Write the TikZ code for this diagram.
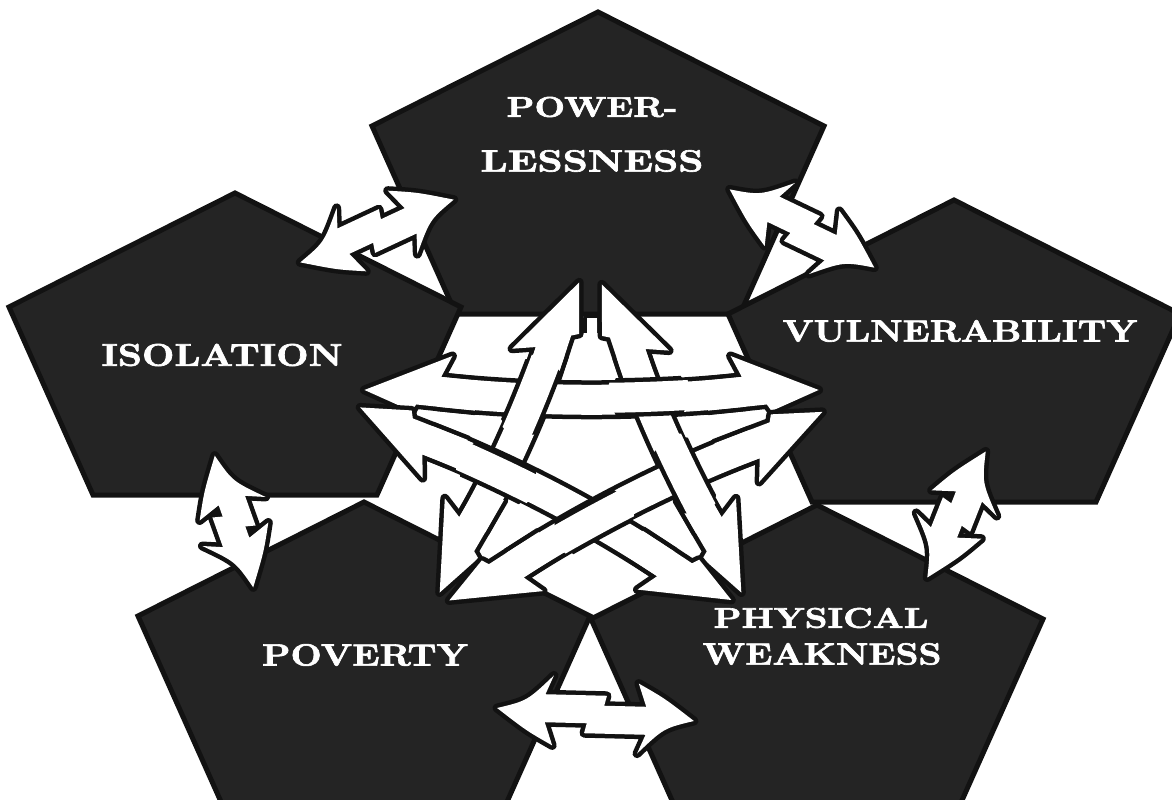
\documentclass[tikz,border=0pt]{standalone}
\usepackage{fontspec}
\usepackage{graphicx}
\usetikzlibrary{calc,intersections,decorations.markings}

\newfontfamily\headfont{Latin Modern Roman}[BoldFeatures={FakeBold=2}]

\definecolor{penfill}{RGB}{36,36,36}
\definecolor{penedge}{RGB}{18,18,18}
\definecolor{ink}{RGB}{18,18,18}

% pentagon with its apex at (#2,#3); #1 names its centre
\newcommand\drawpenta[3]{%
  \draw[penta] (#2,#3) -- ++(226,114) -- ++(-84,188) -- ++(-284,0) -- ++(-84,-188) -- cycle;
  \coordinate (#1) at (#2,#3+170);}

% head of a star arrow: shaft centred on the x axis, head pointing along +x,
% the outer barb on the +y side and the inner side cut straight
\newcommand\starhead[1]{%
  \path[#1] (0,-6) -- (-84,37) -- (-75,15) -- (-112,15)
    -- (-112,-15) -- (-53,-15) -- (-49,-22) -- cycle;}

% curved double arrow of the star
\newcommand\stararrow[2]{%
  \draw[ink, line width=39pt, shorten <=74pt, shorten >=74pt] (#1) to[starcurve] (#2);
  \path[decorate, decoration={markings,
      mark=at position 0 with {\starhead{inkshape, xscale=-1}},
      mark=at position 0.9999 with {\starhead{inkshape}}}] (#1) to[starcurve] (#2);
  \draw[white, line width=30pt, shorten <=74pt, shorten >=74pt] (#1) to[starcurve] (#2);
  \path[decorate, decoration={markings,
      mark=at position 0 with {\starhead{paper, xscale=-1}},
      mark=at position 0.9999 with {\starhead{paper}}}] (#1) to[starcurve] (#2);}

% shaft of a star arrow passing over another one at #1
\newcommand\overpass[3]{%
  \begin{scope}
    \clip (#1) circle[radius=38pt];
    \draw[ink, line width=39pt] (#2) to[starcurve] (#3);
  \end{scope}
  \begin{scope}
    \clip (#1) circle[radius=42pt];
    \draw[white, line width=30pt] (#2) to[starcurve] (#3);
  \end{scope}}

% two opposed single arrows, overlapping with a zigzag in the middle
\newcommand\sidehalves[1]{%
  \path[#1] (0,-4) .. controls (30,-12) .. (56,-38) -- (48,-19) -- (\salen/2+11,-19)
    -- (\salen/2+4,9) -- (48,9) -- (56,32) .. controls (30,18) .. (0,-4) -- cycle;
  \path[#1] (\salen,4) .. controls (\salen-30,12) .. (\salen-56,38) -- (\salen-48,19)
    -- (\salen/2-11,19) -- (\salen/2-4,-9) -- (\salen-48,-9) -- (\salen-56,-32)
    .. controls (\salen-30,-18) .. (\salen,4) -- cycle;}

\newcommand\sidearrow[2]{%
  \pgfpointdiff{\pgfpointanchor{#1}{center}}{\pgfpointanchor{#2}{center}}%
  \pgfgetlastxy{\sadx}{\sady}%
  \pgfmathsetmacro\saang{atan2(\sady,\sadx)}%
  \pgfmathsetmacro\salen{veclen(\sadx,\sady)}%
  \begin{scope}[shift={(#1)}, rotate=\saang]
    \sidehalves{inkshape}
    \sidehalves{paper}
  \end{scope}}

\begin{document}
\begin{tikzpicture}[x=1pt, y=-1pt,
  penta/.style={fill=penfill, draw=penedge, line width=5pt, line join=miter},
  pentext/.style={text=white, inner sep=0pt, font=\headfont\bfseries},
  inkshape/.style={fill=ink, draw=ink, line width=9pt, line join=round},
  paper/.style={fill=white, draw=none},
  starcurve/.style={bend left=6}]

\useasboundingbox (0,0) rectangle (1172,800);
\clip (0,0) rectangle (1172,800);

% the five pentagons
\drawpenta{pPow}{598}{12}
\drawpenta{pIso}{235}{193}
\drawpenta{pVul}{954}{200}
\drawpenta{pPov}{364}{502}
\drawpenta{pPhy}{817}{505}

% their titles
\node[pentext] (tPow1) at (592,107) {\resizebox{171pt}{20pt}{POWER-}};
\node[pentext] (tPow2) at (592,161) {\resizebox{223pt}{21.5pt}{LESSNESS}};
\node[pentext] (tIso)  at (222,355) {\resizebox{241pt}{22pt}{ISOLATION}};
\node[pentext] (tVul)  at (960,331) {\resizebox{355pt}{21.5pt}{VULNERABILITY}};
\node[pentext] (tPov)  at (365,655) {\resizebox{206pt}{21.5pt}{POVERTY}};
\node[pentext] (tPhy1) at (821,618) {\resizebox{215pt}{20pt}{PHYSICAL}};
\node[pentext] (tPhy2) at (822,654) {\resizebox{239pt}{21.5pt}{WEAKNESS}};

% arrows between neighbouring pentagons
\coordinate (s1a) at (302,266); \coordinate (s1b) at (452,196);
\coordinate (s2a) at (728,193); \coordinate (s2b) at (876,264);
\coordinate (s3a) at (211,457); \coordinate (s3b) at (257,586);
\coordinate (s4a) at (982,450); \coordinate (s4b) at (931,579);
\coordinate (s5a) at (497,712); \coordinate (s5b) at (694,717);
\sidearrow{s1a}{s1b}
\sidearrow{s2a}{s2b}
\sidearrow{s3a}{s3b}
\sidearrow{s4a}{s4b}
\sidearrow{s5a}{s5b}

% white gap between the two upright shafts under the top heads
\path[inkshape] (587,318) -- (597,318) -- (597,333) -- (625,333) -- (625,392) -- (560,392) -- (560,333) -- (587,333) -- cycle;
\path[paper] (587,318) -- (597,318) -- (597,333) -- (625,333) -- (625,392) -- (560,392) -- (560,333) -- (587,333) -- cycle;

% ends of the five star arrows (shaft centre lines)
\coordinate (T1) at (573.5,280.5); \coordinate (T2) at (607.5,282.5);
\coordinate (L1) at (365,384);     \coordinate (L2) at (358,413);
\coordinate (R1) at (818,384);     \coordinate (R2) at (824.5,417.5);
\coordinate (BL1) at (434.5,589.5); \coordinate (BL2) at (452.5,605.5);
\coordinate (BR1) at (746.5,589.5); \coordinate (BR2) at (728,605);

\path[name path=pa] (T1) to[starcurve] (BL1);
\path[name path=pb] (R1) to[starcurve] (L1);
\path[name path=pc] (BR1) to[starcurve] (T2);
\path[name path=pd] (L2) to[starcurve] (BR2);
\path[name path=pe] (BL2) to[starcurve] (R2);
\path[name intersections={of=pa and pb, by=xab}];
\path[name intersections={of=pb and pc, by=xbc}];
\path[name intersections={of=pc and pe, by=xce}];
\path[name intersections={of=pe and pd, by=xed}];
\path[name intersections={of=pd and pa, by=xda}];

\stararrow{T1}{BL1}
\stararrow{R1}{L1}
\stararrow{BR1}{T2}
\stararrow{L2}{BR2}
\stararrow{BL2}{R2}

% woven crossings
\overpass{xab}{T1}{BL1}
\overpass{xbc}{R1}{L1}
\overpass{xce}{BR1}{T2}
\overpass{xed}{BL2}{R2}
\overpass{xda}{L2}{BR2}
\end{tikzpicture}
\end{document}
